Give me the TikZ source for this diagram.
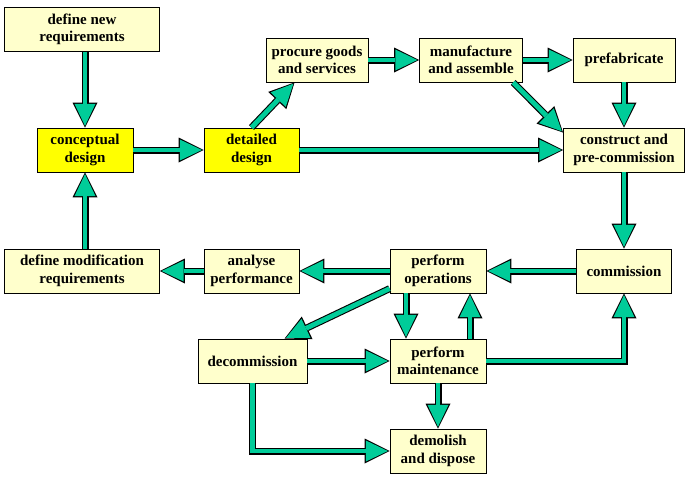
\documentclass[tikz,border=0pt]{standalone}
\usepackage{fontspec}
\setmainfont{Liberation Serif}
\usetikzlibrary{arrows.meta}
\definecolor{boxfill}{RGB}{255,255,204}
\definecolor{keyfill}{RGB}{255,255,0}
\definecolor{flowgreen}{RGB}{0,204,153}
\tikzset{
 box/.style={draw,line width=0.9pt,fill=boxfill,minimum height=44pt,inner sep=0pt,align=center,font=\fontsize{15}{17.5}\selectfont\bfseries},
 keybox/.style={box,fill=keyfill},
 flowedge/.style={line width=7pt,black,-{Triangle[length=25pt,width=25pt,line width=0pt]}},
 flowfill/.style={line width=4.8pt,flowgreen,shorten >=1.7pt,-{Triangle[length=22pt,width=21pt,line width=0pt]}}
}
\newcommand\flowarrow[1]{\draw[flowedge] #1; \draw[flowfill] #1;}

\begin{document}
\begin{tikzpicture}[x=1pt,y=-1pt]
 \useasboundingbox (0,0) rectangle (691,479);
 \node[box,minimum width=155pt] (defnew) at (82,29.5) {define new\\requirements}; %new requirements
 \node[keybox,minimum width=96pt] (concept) at (85,150) {conceptual\\design};
 \node[keybox,minimum width=95pt] (detail) at (251.5,150) {detailed\\design};
 \node[box,minimum width=102pt] (procure) at (317,60) {procure goods\\and services};
 \node[box,minimum width=103pt] (manuf) at (471,60) {manufacture\\and assemble};
 \node[box,minimum width=102pt] (prefab) at (624,60) {prefabricate};
 \node[box,minimum width=121pt] (construct) at (624,150) {construct and\\pre-commission};
 \node[box,minimum width=95pt] (commis) at (624,271) {commission};
 \node[box,minimum width=96pt] (operate) at (438,271) {perform\\operations};
 \node[box,minimum width=95pt] (analyse) at (251.5,271) {analyse\\performance};
 \node[box,minimum width=155pt] (defmod) at (82,271) {define modification\\requirements}; %modification loop
 \node[box,minimum width=109pt] (decommis) at (252.5,361) {decommission};
 \node[box,minimum width=96pt] (maint) at (438,361) {perform\\maintenance};
 \node[box,minimum width=96pt] (demolish) at (438,451) {demolish\\and dispose};

 \flowarrow{(defnew.south -| concept) -- (concept.north)} %design
 \flowarrow{(concept.east) -- (detail.west)}
 \flowarrow{(detail.north) -- (procure.225)} %supply
 \flowarrow{(procure.east) -- (manuf.west)}
 \flowarrow{(manuf.east) -- (prefab.west)}
 \flowarrow{(manuf.332) -- (construct.164)}
 \flowarrow{(prefab.south) -- (construct.north)}
 \flowarrow{(detail.east) -- (construct.west)}
 \flowarrow{(construct.south) -- (commis.north)} %operation
 \flowarrow{(commis.west) -- (operate.east)}
 \flowarrow{(operate.west) -- (analyse.east)}
 \flowarrow{(analyse.west) -- (defmod.east)}
 \flowarrow{(defmod.north -| concept) -- (concept.south)}
 \flowarrow{(operate.200) -- (decommis.35)} %end of life
 \flowarrow{([xshift=-32pt]operate.south) -- ([xshift=-32pt]maint.north)}
 \flowarrow{([xshift=32pt]maint.north) -- ([xshift=32pt]operate.south)}
 \flowarrow{(decommis.east) -- (maint.west)}
 \flowarrow{(maint.east) -| (commis.south)}
 \flowarrow{(maint.south) -- (demolish.north)}
 \flowarrow{(decommis.south) |- (demolish.west)}
\end{tikzpicture}
\end{document}
